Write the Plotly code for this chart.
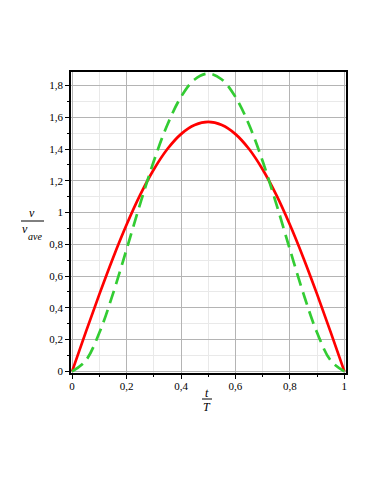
import plotly.graph_objects as go

# normalised time t/T
t = [0, 0.05, 0.1, 0.15, 0.2, 0.25, 0.3, 0.35, 0.4, 0.45, 0.5,
     0.55, 0.6, 0.65, 0.7, 0.75, 0.8, 0.85, 0.9, 0.95, 1]
# v / v_ave
v_sine = [0, 0.246, 0.485, 0.713, 0.923, 1.111, 1.271, 1.400, 1.494, 1.551, 1.571,
          1.551, 1.494, 1.400, 1.271, 1.111, 0.923, 0.713, 0.485, 0.246, 0]
v_poly = [0, 0.068, 0.243, 0.488, 0.768, 1.055, 1.323, 1.553, 1.728, 1.838, 1.875,
          1.838, 1.728, 1.553, 1.323, 1.055, 0.768, 0.488, 0.243, 0.068, 0]

x_ticks = [0, 0.2, 0.4, 0.6, 0.8, 1]
x_labels = ["0", "0,2", "0,4", "0,6", "0,8", "1"]
y_ticks = [0, 0.2, 0.4, 0.6, 0.8, 1, 1.2, 1.4, 1.6, 1.8]
y_labels = ["0", "0,2", "0,4", "0,6", "0,8", "1", "1,2", "1,4", "1,6", "1,8"]

SERIF = "Liberation Serif, Times New Roman, serif"

fig = go.Figure()
fig.add_trace(go.Scatter(x=t, y=v_sine, mode="lines", line_shape="spline",
                         line=dict(color="#ff0000", width=2.7)))
fig.add_trace(go.Scatter(x=t, y=v_poly, mode="lines", line_shape="spline",
                         line=dict(color="#33cc33", width=2.7, dash="13px,7px")))

# plot area on screen: x 71..346, y 72..373 (page has an 8px body margin)
def px(x):
    return (x - 71) / 275

def py(y):
    return (373 - y) / 301

axis_common = dict(showline=True, linecolor="black", linewidth=1.5, mirror=True,
                   ticks="outside", ticklen=4, tickcolor="black",
                   showgrid=True, gridcolor="#b4b4b4", gridwidth=1,
                   zeroline=False, automargin=False,
                   tickfont=dict(family=SERIF, size=11, color="black"),
                   minor=dict(dtick=0.1, showgrid=True, gridcolor="#e9e9e9",
                              ticks="outside", ticklen=2, tickcolor="black"))

fig.update_xaxes(range=[-0.004, 1.006], tickvals=x_ticks, ticktext=x_labels,
                 ticklabelstandoff=-2, **axis_common)
fig.update_yaxes(range=[-0.01, 1.885], tickvals=y_ticks, ticktext=y_labels,
                 **axis_common)

font_it = dict(family=SERIF, size=12, color="black")
font_sub = dict(family=SERIF, size=10, color="black")


def label(text, x, y, font):
    fig.add_annotation(text=text, x=px(x), y=py(y), xref="paper", yref="paper",
                       xanchor="center", yanchor="middle", showarrow=False, font=font)


def bar(x0, x1, y):
    fig.add_shape(type="line", x0=px(x0), x1=px(x1), y0=py(y), y1=py(y),
                  xref="paper", yref="paper", line=dict(color="black", width=1))


# y title: v / v_ave
label("<i>v</i>", 32, 213, font_it)
bar(21, 44, 221)
label("<i>v</i>", 25, 229, font_it)
label("<i>ave</i>", 35, 236, font_sub)

# x title: t / T
label("<i>t</i>", 207, 393, font_it)
bar(202, 212, 399)
label("<i>T</i>", 207, 407, font_it)

fig.update_layout(width=374, height=484, showlegend=False,
                  margin=dict(l=63, r=36, t=64, b=119, autoexpand=False),
                  plot_bgcolor="white", paper_bgcolor="white")

fig.write_html("out.html")
